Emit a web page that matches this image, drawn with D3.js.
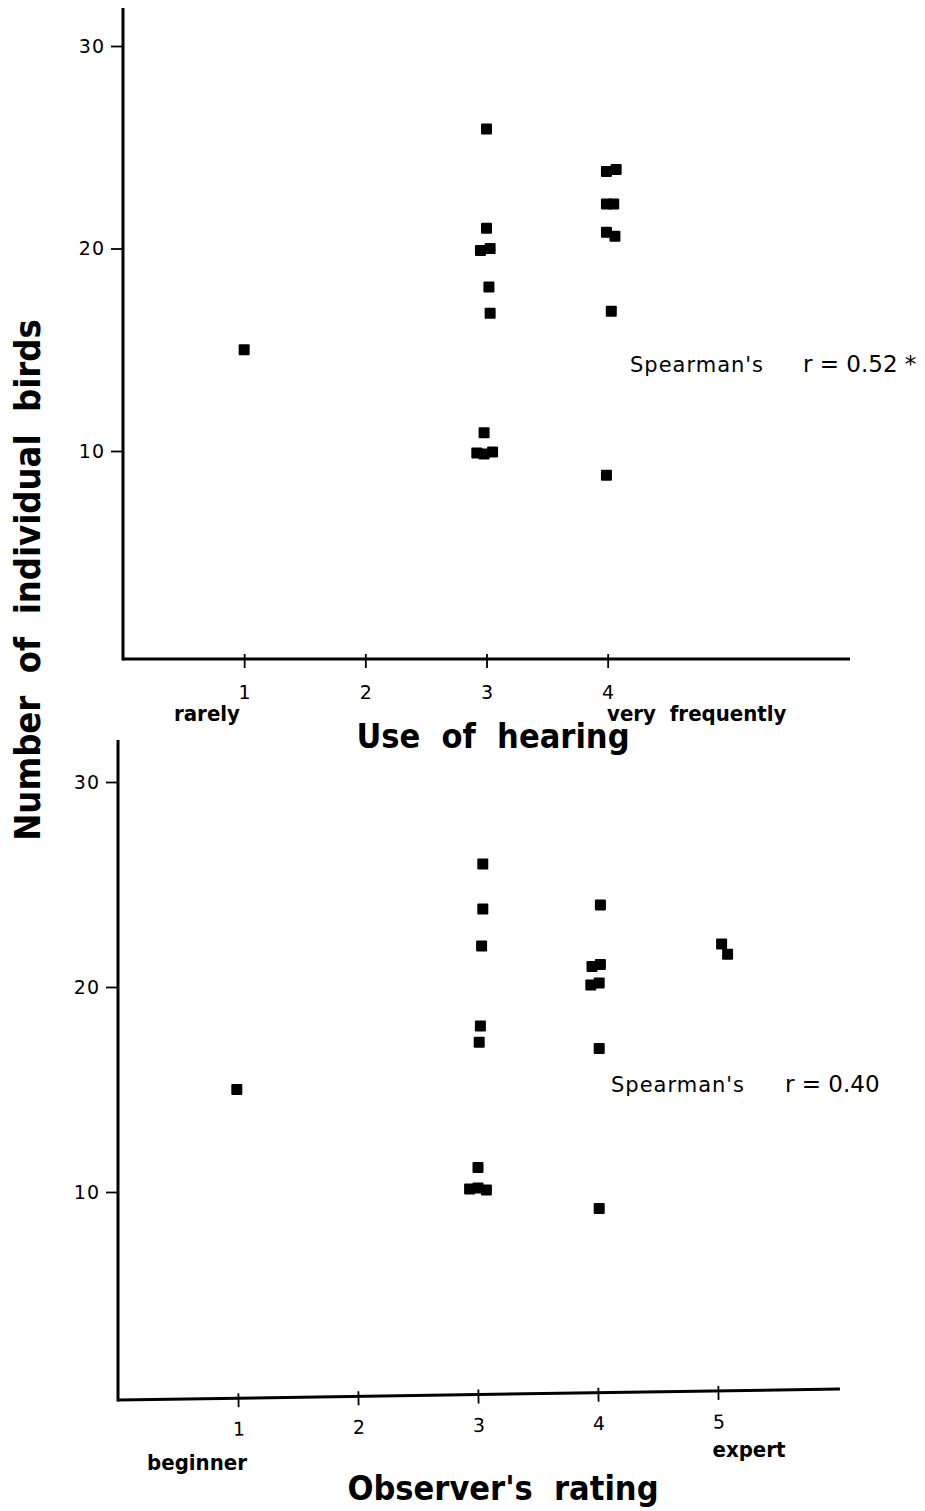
<!DOCTYPE html>
<html>
<head>
<meta charset="utf-8">
<script src="https://cdn.jsdelivr.net/npm/d3@7"></script>
<style>
  body { margin: 0; background: #fff; }
  svg { display: block; }
  text { white-space: pre; }
  .tick text { font-family: "DejaVu Sans", sans-serif; fill: #000; }
</style>
</head>
<body>
<div id="chart"></div>
<script>
// ===== data =====
const hearingX = [1.00, 3.00, 3.00, 2.95, 3.03, 3.02, 3.03, 2.98, 2.92, 2.98, 3.05,
                  3.99, 4.07, 3.99, 4.05, 3.99, 4.06, 4.03, 3.99];
const hearingY = [15.0, 25.9, 21.0, 19.9, 20.0, 18.1, 16.8, 10.9, 9.9, 9.85, 9.95,
                  23.8, 23.9, 22.2, 22.2, 20.8, 20.6, 16.9, 8.8];

const ratingX = [0.99, 3.04, 3.04, 3.03, 3.02, 3.01, 3.00, 2.93, 3.00, 3.07,
                 4.02, 3.95, 4.02, 3.94, 4.01, 4.01, 4.01, 5.03, 5.08];
const ratingY = [15.0, 26.0, 23.8, 22.0, 18.1, 17.3, 11.2, 10.15, 10.2, 10.1,
                 24.0, 21.0, 21.1, 20.1, 20.2, 17.0, 9.2, 22.1, 21.6];

const yTicks = [10, 20, 30];
const hearingTicks = [1, 2, 3, 4];
const ratingTicks = [1, 2, 3, 4, 5];

const W = 925, H = 1511;
const svg = d3.select('#chart').append('svg').attr('width', W).attr('height', H);

const narrow = '"DejaVu Sans Condensed", "DejaVu Sans", sans-serif';

function panel(cfg) {
    const x = d3.scaleLinear().domain([0, 6]).range([cfg.left, cfg.right]);
    const y = d3.scaleLinear().domain([0, 30]).range([cfg.zeroY, cfg.top30]);
    const g = svg.append('g');

    // y axis
    const ya = g.append('g')
        .attr('transform', `translate(${cfg.left},0)`)
        .call(d3.axisLeft(y).tickValues(yTicks).tickSize(12).tickPadding(6));
    ya.select('.domain').remove();
    ya.selectAll('.tick line').attr('stroke', '#000').attr('stroke-width', 1.8);
    ya.selectAll('.tick text').style('font-size', '19px').style('letter-spacing', '1px');
    g.append('line')
        .attr('x1', cfg.left).attr('x2', cfg.left)
        .attr('y1', cfg.axisTop).attr('y2', cfg.axisY + 1.5)
        .attr('stroke', '#000').attr('stroke-width', 3);

    // x axis (slightly tilted in the scan)
    const xg = g.append('g')
        .attr('transform', `rotate(${cfg.tilt},${cfg.left},${cfg.axisY})`);
    xg.append('line')
        .attr('x1', cfg.left).attr('x2', cfg.axisRight)
        .attr('y1', cfg.axisY).attr('y2', cfg.axisY)
        .attr('stroke', '#000').attr('stroke-width', 3);
    const xa = xg.append('g')
        .attr('transform', `translate(0,${cfg.axisY})`)
        .call(d3.axisBottom(x).tickValues(cfg.ticks).tickSize(9).tickPadding(cfg.tickPad).tickFormat(d3.format('d')));
    xa.select('.domain').remove();
    xa.selectAll('.tick line').attr('y1', -5).attr('stroke', '#000').attr('stroke-width', 1.8);
    xa.selectAll('.tick text').style('font-size', '19px');

    // points
    g.append('g').selectAll('rect')
        .data(cfg.xs.map((v, i) => [v, cfg.ys[i]]))
        .join('rect')
        .attr('x', d => x(d[0]) - 5.5)
        .attr('y', d => y(d[1]) - 5.5)
        .attr('width', 11).attr('height', 11)
        .attr('rx', 1)
        .attr('fill', '#000');

    // scale end labels
    cfg.ends.forEach(e => {
        g.append('text')
            .attr('x', e.x).attr('y', e.y)
            .attr('text-anchor', e.anchor || 'start')
            .style('font-family', narrow)
            .style('font-size', '22px')
            .style('font-weight', 'bold')
            .text(e.text);
    });

    // axis title
    g.append('text')
        .attr('x', cfg.titleX).attr('y', cfg.titleY)
        .attr('text-anchor', 'middle')
        .style('font-family', narrow)
        .style('font-weight', 'bold')
        .style('font-size', '34px')
        .text(cfg.title);

    // spearman annotation
    g.append('text')
        .attr('x', cfg.sx).attr('y', cfg.sy)
        .style('font-family', '"DejaVu Sans", sans-serif')
        .style('font-size', '21px')
        .style('letter-spacing', '1px')
        .text("Spearman's");
    g.append('text')
        .attr('x', cfg.rx).attr('y', cfg.sy)
        .style('font-family', '"DejaVu Sans", sans-serif')
        .style('font-size', '23px')
        .text(cfg.r);
}

panel({
    left: 123, right: 850, axisRight: 850, axisTop: 8, axisY: 659, tilt: 0, tickPad: 18,
    zeroY: 653.5, top30: 46,
    ticks: hearingTicks, xs: hearingX, ys: hearingY,
    ends: [{ x: 240, y: 721, text: 'rarely', anchor: 'end' },
           { x: 607, y: 721, text: 'very  frequently' }],
    title: 'Use  of  hearing', titleX: 493, titleY: 748,
    sx: 630, sy: 372, rx: 803, r: 'r = 0.52 *'
});

panel({
    left: 118, right: 838, axisRight: 840, axisTop: 740, axisY: 1400, tilt: -0.87, tickPad: 15,
    zeroY: 1397, top30: 782,
    ticks: ratingTicks, xs: ratingX, ys: ratingY,
    ends: [{ x: 197, y: 1470, text: 'beginner', anchor: 'middle' },
           { x: 749, y: 1457, text: 'expert', anchor: 'middle' }],
    title: "Observer's  rating", titleX: 503, titleY: 1500,
    sx: 611, sy: 1092, rx: 785, r: 'r = 0.40'
});

// shared y title
svg.append('text')
    .attr('transform', 'translate(40,580) rotate(-90)')
    .attr('text-anchor', 'middle')
    .style('font-family', narrow)
    .style('font-weight', 'bold')
    .style('font-size', '36px')
    .text('Number  of  individual  birds');
</script>
</body>
</html>
